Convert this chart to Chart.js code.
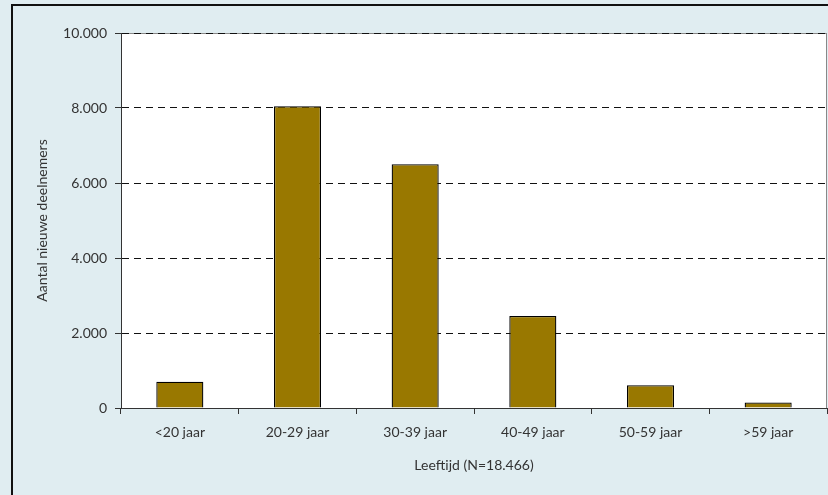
<!DOCTYPE html>
<html>
<head>
<meta charset="utf-8">
<script src="https://cdn.jsdelivr.net/npm/chart.js@4"></script>
<style>
  html, body { margin: 0; padding: 0; background: #e0edf1; }
  #wrap { width: 828px; height: 495px; position: relative; }
</style>
</head>
<body>
<div id="wrap"><canvas id="c" width="828" height="495"></canvas></div>
<script>
const categories = ['<20 jaar', '20-29 jaar', '30-39 jaar', '40-49 jaar', '50-59 jaar', '>59 jaar'];
const values = [700, 8050, 6500, 2456, 610, 150];
const yMin = 0;
const yMax = 10000;
const yStep = 2000;
const xTitle = 'Leeftijd (N=18.466)';
const yTitle = 'Aantal nieuwe deelnemers';

function fmt(v) {
  return String(v).replace(/\B(?=(\d{3})+(?!\d))/g, '.');
}

const bgPlugin = {
  id: 'bg',
  beforeDraw(chart) {
    const ctx = chart.ctx;
    const a = chart.chartArea;
    ctx.save();
    ctx.fillStyle = '#e0edf1';
    ctx.fillRect(0, 0, chart.width, chart.height);
    ctx.strokeStyle = '#111';
    ctx.lineWidth = 2;
    ctx.strokeRect(12, 5, chart.width + 20, chart.height + 20);
    ctx.fillStyle = '#ffffff';
    ctx.fillRect(a.left, a.top, a.right - a.left, a.bottom - a.top);
    ctx.strokeStyle = '#888';
    ctx.lineWidth = 1;
    ctx.strokeRect(a.left + 0.5, a.top + 0.5, a.right - a.left - 1, a.bottom - a.top);
    ctx.restore();
  }
};

const font = { family: 'Lato', size: 14 };

new Chart(document.getElementById('c'), {
  type: 'bar',
  data: {
    labels: categories,
    datasets: [{
      data: values,
      backgroundColor: '#997800',
      borderColor: '#000',
      borderWidth: 1.3,
      barPercentage: 0.4,
      categoryPercentage: 1.0
    }]
  },
  options: {
    responsive: false,
    animation: false,
    devicePixelRatio: 1,
    layout: { padding: { left: 0, top: 33, right: 1, bottom: 0 } },
    plugins: { legend: { display: false }, tooltip: { enabled: false } },
    scales: {
      x: {
        afterFit(scale) { scale.height = 87; },
        grid: {
          display: true,
          drawOnChartArea: false,
          drawTicks: true,
          tickLength: 6,
          tickColor: '#333',
          offset: true
        },
        border: { display: true, color: '#333', width: 1 },
        ticks: { color: '#333', font: font, padding: 10, maxRotation: 0 },
        title: { display: true, text: xTitle, color: '#333', font: font, padding: { top: 0, bottom: 21 } }
      },
      y: {
        min: yMin,
        max: yMax,
        afterFit(scale) { scale.width = 121; },
        grid: {
          color: '#111',
          lineWidth: 1,
          drawTicks: true,
          tickLength: 6,
          tickColor: '#333',
          tickBorderDash: []
        },
        border: { display: true, color: '#333', width: 1, dash: [7, 5] },
        ticks: {
          stepSize: yStep,
          color: '#333',
          font: font,
          padding: 8,
          callback: (v) => fmt(v)
        },
        title: { display: true, text: yTitle, color: '#333', font: font, padding: { top: 34, bottom: 0 } }
      }
    }
  },
  plugins: [bgPlugin]
});
</script>
</body>
</html>
